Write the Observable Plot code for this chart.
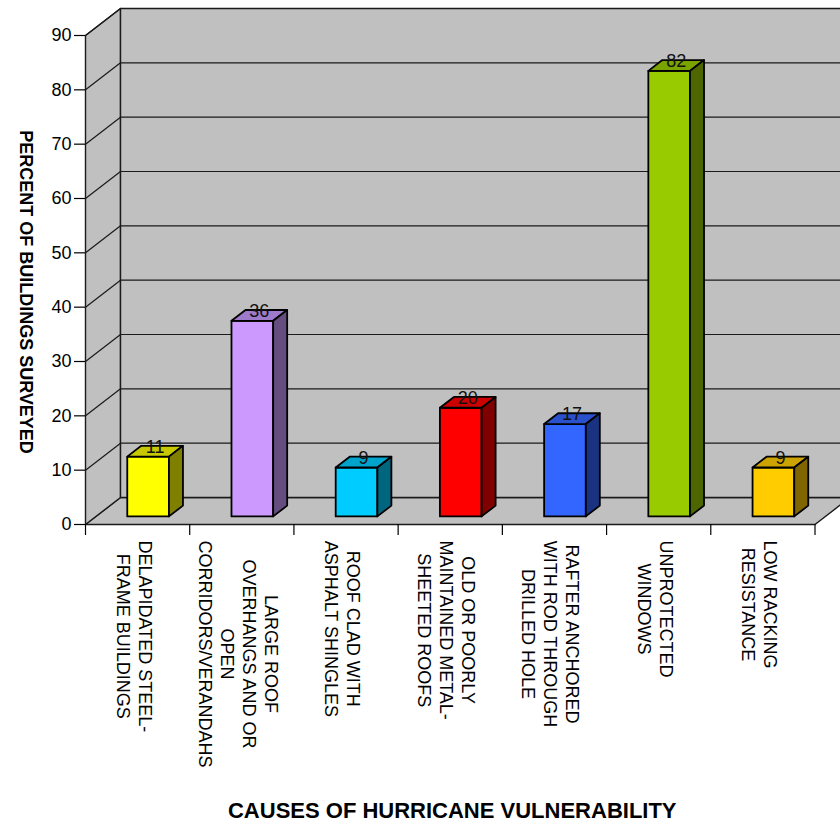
<!DOCTYPE html>
<html><head><meta charset="utf-8">
<script src="https://cdn.jsdelivr.net/npm/d3@7"></script>
<script src="https://cdn.jsdelivr.net/npm/@observablehq/plot@0.6"></script>
<style>
html,body{margin:0;padding:0;background:#fff;overflow:hidden}
#chart svg{overflow:hidden;display:block}
</style>
</head><body><div id="chart"></div>
<script>
// ---- data ----
const categories = [
  "DELAPIDATED STEEL-\nFRAME BUILDINGS",
  "LARGE ROOF\nOVERHANGS AND OR\nOPEN\nCORRIDORS/VERANDAHS",
  "ROOF CLAD WITH\nASPHALT SHINGLES",
  "OLD OR POORLY\nMAINTAINED METAL-\nSHEETED ROOFS",
  "RAFTER ANCHORED\nWITH ROD THROUGH\nDRILLED HOLE",
  "UNPROTECTED\nWINDOWS",
  "LOW RACKING\nRESISTANCE"
];
const values = [11, 36, 9, 20, 17, 82, 9];
const frontColors = ["#FFFF00", "#CC99FF", "#00CCFF", "#FF0000", "#3366FF", "#99CC00", "#FFCC00"];
const topColors   = ["#C8C800", "#9E7ACC", "#00A3CC", "#CC0000", "#2A50CC", "#7AA300", "#CCA300"];
const sideColors  = ["#808000", "#664D80", "#006680", "#800000", "#1A3380", "#4D6600", "#806600"];
const yTicks = [0, 10, 20, 30, 40, 50, 60, 70, 80, 90];
const yTitle = "PERCENT OF BUILDINGS SURVEYED";
const xTitle = "CAUSES OF HURRICANE VULNERABILITY";

// ---- 3D look (in scale units) ----
const DX = 0.336, DY = 4.97;          // depth vector of the floor/walls
const HALF = 0.2, F0 = 0.3, F1 = 0.7; // bar half width, front/back depth fraction
const n = categories.length;
const yMax = yTicks[yTicks.length - 1];
const WALL = "#C0C0C0";
const FONT = "'Liberation Sans', Arial, sans-serif";

// polygons
const polys = [];
function poly(id, fill, pts) { pts.forEach(([x, y]) => polys.push({id, fill, x, y})); }
const wallPolys = [];
function wpoly(id, pts) { pts.forEach(([x, y]) => wallPolys.push({id, x, y})); }
wpoly("floor", [[0, 0], [n, 0], [n + DX, DY], [DX, DY]]);
wpoly("left", [[0, 0], [0, yMax], [DX, yMax + DY], [DX, DY]]);
wpoly("back", [[DX, DY], [n + DX, DY], [n + DX, yMax + DY], [DX, yMax + DY]]);

values.forEach((v, i) => {
  const cx = i + 0.5;
  const xl0 = cx - HALF + F0 * DX, xr0 = cx + HALF + F0 * DX;
  const xl1 = cx - HALF + F1 * DX, xr1 = cx + HALF + F1 * DX;
  const b0 = F0 * DY, b1 = F1 * DY, t0 = v + F0 * DY, t1 = v + F1 * DY;
  poly("front" + i, frontColors[i], [[xl0, b0], [xr0, b0], [xr0, t0], [xl0, t0]]);
  poly("top" + i, topColors[i], [[xl0, t0], [xr0, t0], [xr1, t1], [xl1, t1]]);
  poly("side" + i, sideColors[i], [[xr0, b0], [xr1, b1], [xr1, t1], [xr0, t0]]);
});

const grid = yTicks.slice(1, -1);

// label measurement for centred, top-aligned multi-line blocks
const ctx = document.createElement("canvas").getContext("2d");
ctx.font = "18px " + FONT;
const labelMarks = categories.map((c, i) => {
  const w = d3.max(c.split("\n"), s => ctx.measureText(s).width);
  return Plot.text([c], {
    x: () => i + 0.5, frameAnchor: "bottom", text: d => d,
    rotate: 90, textAnchor: "middle", lineAnchor: "middle", lineHeight: 1.22,
    fontSize: 18, dy: 16 + w / 2, dx: -3, fill: "#000"
  });
});

const chart = Plot.plot({
  width: 840, height: 822,
  marginLeft: 85, marginRight: 25.5, marginTop: 35, marginBottom: 298,
  x: {domain: [0, n]},
  y: {domain: [0, yMax]},
  color: {type: "identity"},
  style: {fontFamily: FONT, color: "#000", background: "#fff", overflow: "hidden"},
  marks: [
    Plot.line(wallPolys, {x: "x", y: "y", z: "id", fill: WALL, stroke: "#1a1a1a", strokeWidth: 1.4, curve: "linear-closed"}),
    Plot.link(grid, {x1: DX, x2: n + DX, y1: d => d + DY, y2: d => d + DY, stroke: "#1a1a1a", strokeWidth: 1.2}),
    Plot.link(grid, {x1: 0, x2: DX, y1: d => d, y2: d => d + DY, stroke: "#1a1a1a", strokeWidth: 1.2}),
    Plot.link([yMax], {x1: 0, x2: DX, y1: d => d, y2: d => d + DY, stroke: "#1a1a1a", strokeWidth: 1.2}),
    Plot.axisY(yTicks, {tickSize: 11, tickPadding: 3, fontSize: 18, label: null, stroke: "#000", strokeWidth: 1.2}),
    Plot.axisX(d3.range(0, n + 1), {tickSize: 11, tickFormat: () => "", label: null, stroke: "#000", strokeWidth: 1.2}),
    Plot.line(polys, {x: "x", y: "y", z: "id", fill: "fill", stroke: "#000", strokeWidth: 1.8, strokeLinejoin: "round", curve: "linear-closed"}),
    Plot.text(values, {
      x: (d, i) => i + 0.5 + (F0 + F1) / 2 * DX, y: d => d + (F0 + F1) / 2 * DY,
      text: d => String(d), fontSize: 18, dy: -4, fill: "#111", textAnchor: "middle", lineAnchor: "middle"
    }),
    ...labelMarks,
    Plot.text([yTitle], {frameAnchor: "left", dx: -60, dy: 12, rotate: 90, text: d => d,
      fontSize: 18, fontWeight: "bold", textAnchor: "middle", lineAnchor: "middle", fill: "#000"}),
    Plot.text([xTitle], {frameAnchor: "bottom", dx: 2, dy: 286, text: d => d,
      fontSize: 22, fontWeight: "bold", textAnchor: "middle", lineAnchor: "middle", fill: "#000"})
  ]
});
document.getElementById("chart").appendChild(chart);
</script>
</body></html>
